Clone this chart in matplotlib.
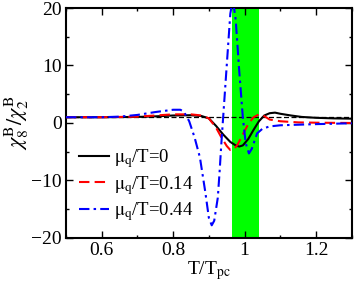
import matplotlib
matplotlib.use('Agg')
import matplotlib.pyplot as plt
from matplotlib.ticker import MultipleLocator

plt.rcParams['font.family'] = ['Liberation Serif', 'DejaVu Serif']
plt.rcParams['mathtext.fontset'] = 'stix'

# black solid, mu_q/T = 0
t_0 = [0.5, 0.6, 0.7, 0.75, 0.8, 0.85, 0.88, 0.9, 0.92, 0.94, 0.96, 0.975, 0.985,
       0.995, 1.01, 1.025, 1.04, 1.055, 1.07, 1.085, 1.1, 1.13, 1.16, 1.2, 1.25, 1.3]
r_0 = [1.0, 1.0, 1.05, 1.15, 1.3, 1.35, 1.2, 0.8, -0.5, -2.0, -3.3, -3.9, -4.1,
       -3.9, -2.8, -1.2, 0.3, 1.3, 1.7, 1.8, 1.6, 1.3, 1.05, 0.9, 0.8, 0.75]

# red dashed, mu_q/T = 0.14
t_14 = [0.5, 0.6, 0.7, 0.75, 0.8, 0.85, 0.88, 0.9, 0.92, 0.935, 0.95, 0.96, 0.97,
        0.98, 0.995, 1.01, 1.025, 1.04, 1.055, 1.07, 1.1, 1.15, 1.2, 1.3]
r_14 = [1.0, 1.0, 1.1, 1.3, 1.5, 1.5, 1.3, 0.8, -0.8, -2.5, -4.0, -4.7, -4.6,
        -3.8, -2.0, -0.2, 1.0, 1.5, 1.2, 0.6, 0.3, 0.1, 0.05, 0.0]

# blue dash-dot, mu_q/T = 0.44
t_44 = [0.5, 0.6, 0.65, 0.7, 0.75, 0.8, 0.82, 0.83, 0.845, 0.86, 0.875, 0.89, 0.9,
        0.908, 0.915, 0.925, 0.93, 0.935, 0.94, 0.95, 0.96, 0.967, 0.975, 0.985,
        0.995, 1.003, 1.012, 1.02, 1.035, 1.05, 1.07, 1.1, 1.15, 1.2, 1.3]
r_44 = [1.0, 1.0, 1.1, 1.4, 1.9, 2.3, 2.3, 2.0, 0.3, -2.5, -6.0, -12.0, -16.5,
        -17.8, -17.0, -13.0, -8.5, -3.5, 1.0, 10.0, 19.0, 21.5, 18.0, 9.0,
        1.0, -3.5, -5.3, -4.5, -1.8, -1.0, -0.6, -0.4, -0.3, -0.2, -0.05]

band = (0.965, 1.04)

fig = plt.figure(figsize=(3.54, 2.86), dpi=100)
ax = fig.add_axes([0.186, 0.168, 0.808, 0.804])

ax.axvspan(band[0], band[1], color='#00ff00', lw=0, zorder=0)
ax.axhline(1.0, color='black', lw=0.9, ls=(0, (4, 2)), zorder=1)

ax.plot(t_0, r_0, color='black', lw=1.5, label=r'$\mathrm{\mu_q}$/T=0', zorder=3)
ax.plot(t_14, r_14, color='red', lw=1.5, ls=(0, (5, 2.5)),
        label=r'$\mathrm{\mu_q}$/T=0.14', zorder=3)
ax.plot(t_44, r_44, color='blue', lw=1.5, ls=(0, (5, 2, 1.2, 2)),
        label=r'$\mathrm{\mu_q}$/T=0.44', zorder=3)

ax.set_xlim(0.5, 1.3)
ax.set_ylim(-20, 20)
ax.xaxis.set_major_locator(MultipleLocator(0.2))
ax.xaxis.set_minor_locator(MultipleLocator(0.1))
ax.yaxis.set_major_locator(MultipleLocator(10))
ax.yaxis.set_minor_locator(MultipleLocator(5))
ax.tick_params(which='both', direction='in', top=True, right=True, labelsize=14)
ax.tick_params(which='major', length=5, width=1, pad=3)
ax.tick_params(which='minor', length=2.5, width=1)
ax.set_xticks([0.6, 0.8, 1.0, 1.2])
ax.set_xticklabels(['0.6', '0.8', '1', '1.2'])
for s in ax.spines.values():
    s.set_linewidth(1.5)

ax.set_xlabel(r'T/T$_{\rm pc}$', fontsize=14, labelpad=0)
ax.set_ylabel(r'$\chi_8^{\rm B}/\chi_2^{\rm B}$', fontsize=16, labelpad=0)

ax.legend(loc='upper left', bbox_to_anchor=(0.045, 0.395), frameon=False,
          fontsize=13.5, handlelength=1.6, handletextpad=0.3, labelspacing=0.2,
          borderaxespad=0.0, borderpad=0.0)

fig.savefig('out.png', dpi=100)
